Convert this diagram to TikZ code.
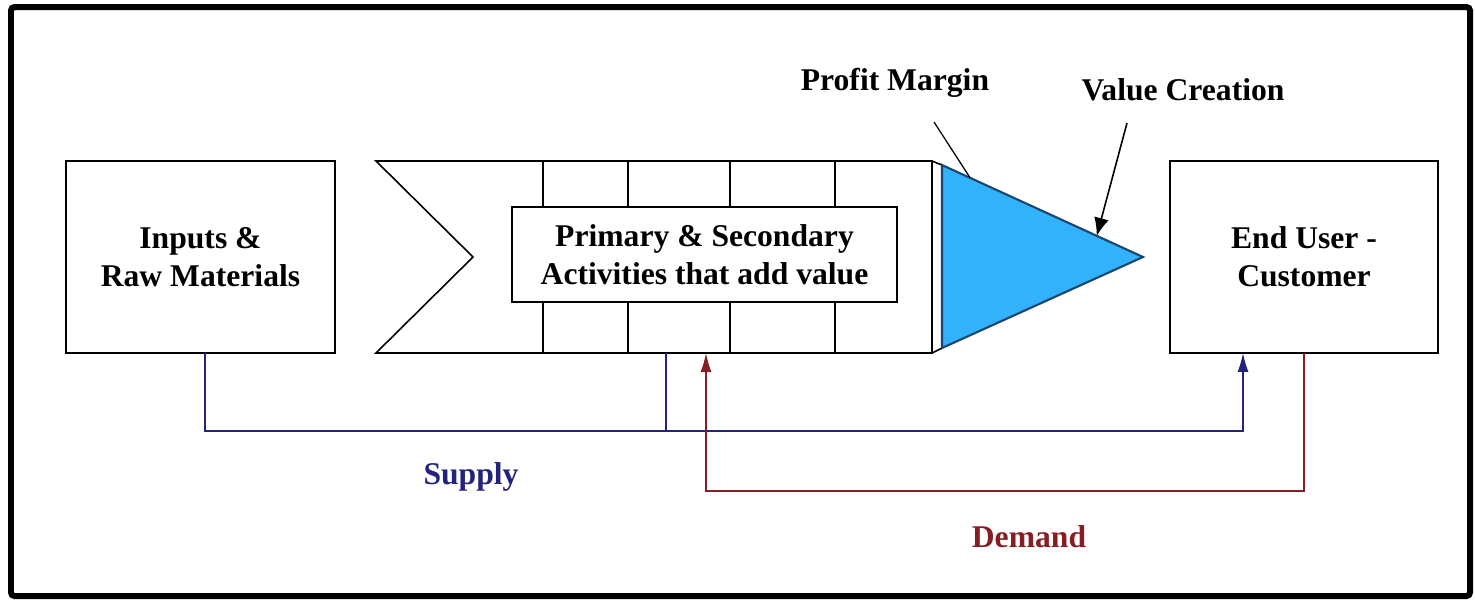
\documentclass[tikz,border=0pt]{standalone}
\usepackage{fontspec}
\setmainfont{Liberation Serif}
\usetikzlibrary{arrows.meta,calc}
\definecolor{supplyblue}{RGB}{35,35,125}
\definecolor{demandred}{RGB}{135,30,35}
\definecolor{marginblue}{RGB}{50,178,250}
\definecolor{marginedge}{RGB}{25,70,110}

\begin{document}
\begin{tikzpicture}[x=0.02cm,y=-0.02cm,
    every node/.style={font=\fontsize{18}{21.6}\selectfont\bfseries},
    box/.style={draw,line width=0.9pt,align=center,inner sep=0pt,outer sep=0pt},
    supply/.style={draw=supplyblue,line width=0.8pt},
    demand/.style={draw=demandred,line width=0.8pt},
    flowtip/.style={-{Latex[length=0.38cm,width=0.22cm]}}]
  \useasboundingbox (0,0) rectangle (1475,599);
  \draw[line width=0.12cm,rounded corners=2pt] (11,7) rectangle (1470,596);

  \node (inputs) at (200.5,257) [box,minimum width=5.38cm,minimum height=3.84cm] {Inputs \&\\Raw Materials};
  \node (cust) at (1304,257) [box,minimum width=5.36cm,minimum height=3.84cm] {End User -\\Customer};

      % value chain arrow
      \draw[line width=0.9pt] (376,161) -- (932,161) -- (932,353) -- (376,353) -- (473,257) -- cycle;
      \foreach \x in {543,628,730,835} {
        \draw[line width=0.9pt] (\x,161) to (\x,353);
      }
  \node (acts) at (704.5,254.5) [box,fill=white,minimum width=7.7cm,minimum height=1.9cm] {Primary \& Secondary\\Activities that add value};

      % margin
      \coordinate (tritop) at (942,165);
      \coordinate (triapex) at (1143,257);
      \coordinate (tribot) at (942,348);
      \draw[line width=0.9pt] (932,161) to (tritop)  (932,353) to (tribot);
      \draw[draw=marginedge,fill=marginblue,line width=1.2pt] (tritop) -- (triapex) -- (tribot) -- cycle;

  \node (pm) at (895,83) {Profit Margin};
  \node (vc) at (1183,90) {Value Creation};
  \coordinate (pmfoot) at (934,122);
  \coordinate (vcfoot) at (1127,123);
  \draw[line width=0.7pt] (pmfoot) to ($(tritop)!0.14!(triapex)$);
  \draw[line width=0.9pt,-{Latex[length=0.36cm,width=0.3cm]}] (vcfoot) to ($(tritop)!0.77!(triapex)$);

      % supply and demand
      \coordinate (sout) at (666,353);
      \coordinate (din) at (706,353);
      \draw[supply,flowtip] ([xshift=0.09cm]inputs.south) -- ++(0,78) -| ([xshift=-1.22cm]cust.south);
      \draw[supply] (sout) -- ++(0,78);
      \draw[demand,flowtip] (cust.south) -- ++(0,138) -| (din);

  \node (supplylbl) at (471,477) [text=supplyblue] {Supply};
  \node (demandlbl) at (1029,537) [text=demandred] {Demand};
\end{tikzpicture}
\end{document}
